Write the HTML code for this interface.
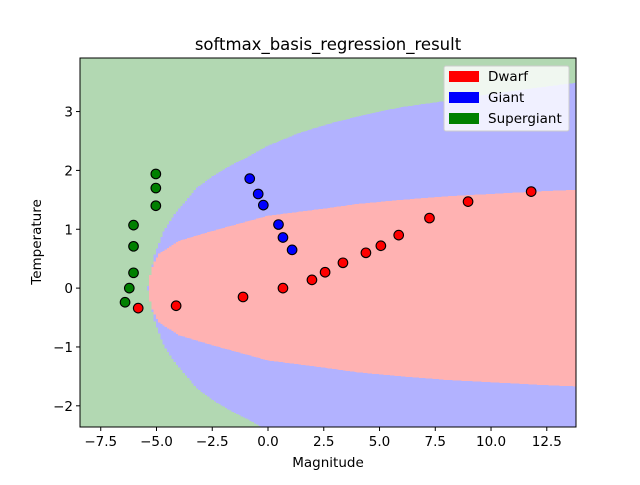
<!DOCTYPE html>
<html><head><meta charset="utf-8"><style>
body{margin:0;background:#fff}
svg{font-family:"DejaVu Sans","Liberation Sans",sans-serif}
</style></head><body>
<svg id="chart" width="640" height="480" viewBox="0 0 640 480">
<rect width="640" height="480" fill="#fff"/>
<text x="328" y="50" text-anchor="middle" font-size="16.5">softmax_basis_regression_result</text>
<g id="regions" shape-rendering="crispEdges"></g>
<g id="points"></g>
<rect x="80" y="58" width="496" height="369" fill="none" stroke="#000" stroke-width="1"/>
<g id="xticks"></g>
<g id="yticks"></g>
<text x="328" y="467" text-anchor="middle" font-size="13.5">Magnitude</text>
<text transform="translate(41,242) rotate(-90)" text-anchor="middle" font-size="13.5">Temperature</text>
<g>
<rect x="444" y="66" width="125" height="65" rx="2" fill="#fff" fill-opacity="0.8" stroke="#ccc"/>
<g><rect x="449" y="71" width="30" height="11" fill="#ff0000"/><text x="488" y="81" font-size="13.5">Dwarf</text></g>
<g><rect x="449" y="92" width="30" height="11" fill="#0000ff"/><text x="488" y="102" font-size="13.5">Giant</text></g>
<g><rect x="449" y="113" width="30" height="11" fill="#008000"/><text x="488" y="123" font-size="13.5">Supergiant</text></g>
</g>
</svg>
<script>
const xTicks=[-7.5,-5.0,-2.5,0.0,2.5,5.0,7.5,10.0,12.5];
const yTicks=[-2,-1,0,1,2,3];
const dwarfX=[-5.82,-4.12,-1.12,0.67,1.97,2.56,3.36,4.39,5.06,5.86,7.24,8.97,11.8];
const dwarfY=[-0.34,-0.30,-0.15,0.0,0.14,0.27,0.43,0.6,0.72,0.9,1.19,1.47,1.64];
const giantX=[-0.82,-0.44,-0.21,0.47,0.67,1.08];
const giantY=[1.86,1.60,1.41,1.08,0.86,0.65];
const superX=[-5.03,-5.03,-5.03,-6.03,-6.03,-6.03,-6.22,-6.41];
const superY=[1.94,1.70,1.40,1.07,0.71,0.26,0.0,-0.24];
// decision boundary half-heights (boundary tables)
const redBX=[-5.38,-5.3,-5.15,-4.9,-4.0,-2.5,0,2.5,4,6,8,10,12.5,13.81];
const redBH=[0,0.2,0.4,0.58,0.80,0.97,1.23,1.35,1.43,1.5,1.56,1.6,1.65,1.67];
const blueBX=[-5.4,-5.1,-4.7,-4.2,-3.6,-3.2,-2.45,-1.6,-0.95,0,1.43,2.9,4.4,5.9,7.4,10,12,13.81];
const blueBH=[0,0.55,0.95,1.25,1.52,1.7,1.91,2.1,2.22,2.42,2.64,2.81,2.95,3.07,3.15,3.3,3.4,3.49];
const xMin=-8.43,xMax=13.81,yMin=-2.36,yMax=3.91;
const L=80,R=576,T=58,B=427;
const NS="http://www.w3.org/2000/svg";
function sx(v){return L+(v-xMin)/(xMax-xMin)*(R-L);}
function sy(v){return B-(v-yMin)/(yMax-yMin)*(B-T);}
function mk(tag,attrs,parent){const e=document.createElementNS(NS,tag);for(const k in attrs)e.setAttribute(k,attrs[k]);parent.appendChild(e);return e;}
function interp(xs,hs,x){if(x<=xs[0])return -1;if(x>=xs[xs.length-1])return hs[hs.length-1];
  for(let i=1;i<xs.length;i++){if(x<=xs[i]){const t=(x-xs[i-1])/(xs[i]-xs[i-1]);return hs[i-1]+t*(hs[i]-hs[i-1]);}}return -1;}
const reg=document.getElementById('regions');
const bg=mk('rect',{x:L,y:T,width:R-L,height:B-T,fill:'#b2d8b2'},reg);


const step=0.1;
for(let x=xMin;x<xMax;x+=step){
  const xc=x+step/2;
  const x0=sx(x), w=sx(Math.min(x+step,xMax))-x0+0.6;
  const hr=interp(redBX,redBH,xc);
  const hb=Math.max(interp(blueBX,blueBH,xc),hr);
  if(hb>0){const y1=Math.min(yMax,hb), y2=Math.max(yMin,-hb);
    const r=mk('rect',{x:x0,y:sy(y1),width:w,height:sy(y2)-sy(y1),fill:'#b2b2ff'},reg);
    
    }
  if(hr>0){const y1=Math.min(yMax,hr), y2=Math.max(yMin,-hr);
    const r=mk('rect',{x:x0,y:sy(y1),width:w,height:sy(y2)-sy(y1),fill:'#ffb2b2'},reg);
    
    }
}
const pts=document.getElementById('points');
function draw(xs,ys,col,name){for(let i=0;i<xs.length;i++){
  const c=mk('circle',{cx:sx(xs[i]),cy:sy(ys[i]),r:4.8,fill:col,stroke:'#000','stroke-width':1.1},pts);
  
  }}
draw(dwarfX,dwarfY,'#ff0000','dwarf-point');
draw(giantX,giantY,'#0000ff','giant-point');
draw(superX,superY,'#008000','supergiant-point');
const xg=document.getElementById('xticks');
xTicks.forEach(v=>{const X=sx(v);
  mk('line',{x1:X,x2:X,y1:B,y2:B+4,stroke:'#000'},xg);
  const t=mk('text',{x:X,y:B+19,'text-anchor':'middle','font-size':13.5},xg);
  t.textContent=(v<0?'\u2212':'')+Math.abs(v).toFixed(1);
  
  });
const yg=document.getElementById('yticks');
yTicks.forEach(v=>{const Y=sy(v);
  mk('line',{x1:L-4,x2:L,y1:Y,y2:Y,stroke:'#000'},yg);
  const t=mk('text',{x:L-7,y:Y+5,'text-anchor':'end','font-size':13.5},yg);
  t.textContent=(v<0?'\u2212':'')+Math.abs(v);
  
  });
</script>
</body></html>
